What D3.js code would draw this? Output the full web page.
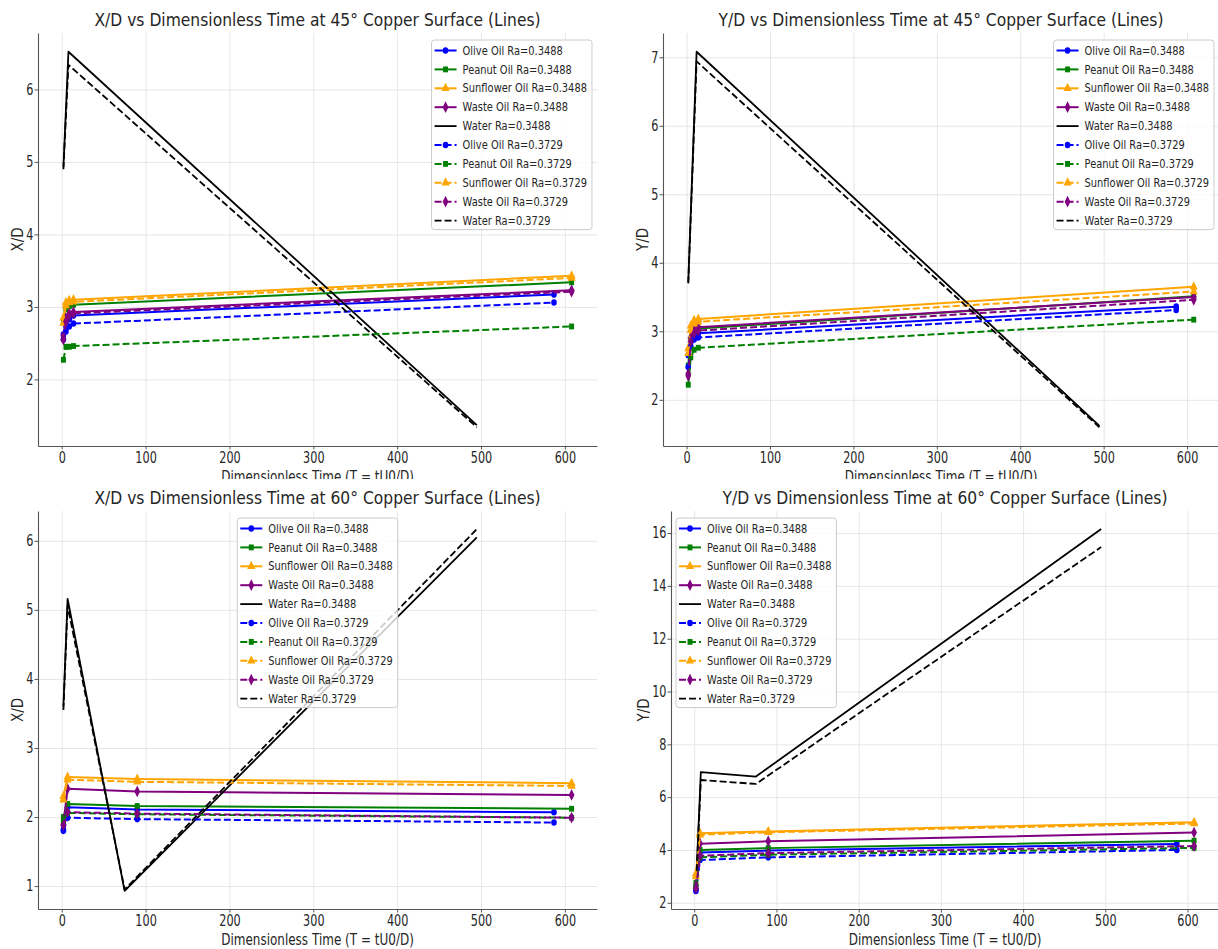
<!DOCTYPE html>
<html>
<head>
<meta charset="utf-8">
<script src="https://cdn.jsdelivr.net/npm/d3@7"></script>
<style>
  body { margin: 0; background: #ffffff; }
  svg { display: block; font-family: "DejaVu Sans", sans-serif; }
</style>
</head>
<body>
<svg id="chart" width="1218" height="949"></svg>
<script>
// ---------------- DATA ----------------
const fluidNames   = ["Olive Oil", "Peanut Oil", "Sunflower Oil", "Waste Oil", "Water"];
const raLabels     = ["0.3488", "0.3729"];
const xTickValues  = [0, 100, 200, 300, 400, 500, 600];

// Dimensionless time samples (T = tU0/D)
const tTopOlive   = [2, 5, 9, 14, 587];
const tTopOil     = [2, 5, 9, 14, 608];
const tTopWaterX  = [2, 8, 495];
const tTopWaterY  = [2, 12, 495];
const tBotOlive   = [2, 7, 90, 587];
const tBotOil     = [2, 7, 90, 608];
const tBotWaterX  = [2, 7, 75, 495];
const tBotWaterY  = [3, 8, 75, 495];

// X/D at 45° (order: Olive, Peanut, Sunflower, Waste, Water)
const xd45Ra3488 = [
  [2.62, 2.74, 2.83, 2.88, 3.17],
  [2.80, 2.97, 3.01, 3.03, 3.34],
  [2.85, 3.06, 3.09, 3.10, 3.43],
  [2.60, 2.84, 2.91, 2.93, 3.23],
  [4.93, 6.52, 1.37]
];
const xd45Ra3729 = [
  [2.55, 2.66, 2.73, 2.77, 3.06],
  [2.27, 2.45, 2.45, 2.46, 2.73],
  [2.78, 3.02, 3.06, 3.07, 3.40],
  [2.55, 2.80, 2.88, 2.91, 3.21],
  [4.90, 6.34, 1.34]
];
// Y/D at 45°
const yd45Ra3488 = [
  [2.65, 2.85, 2.94, 2.97, 3.36],
  [2.50, 2.88, 3.00, 3.04, 3.51],
  [2.75, 3.08, 3.16, 3.18, 3.65],
  [2.38, 2.90, 3.02, 3.06, 3.50],
  [3.72, 7.08, 1.62]
];
const yd45Ra3729 = [
  [2.48, 2.78, 2.88, 2.91, 3.31],
  [2.22, 2.62, 2.73, 2.76, 3.17],
  [2.68, 3.02, 3.11, 3.14, 3.58],
  [2.35, 2.85, 2.97, 3.01, 3.46],
  [3.70, 6.94, 1.60]
];
// X/D at 60°
const xd60Ra3488 = [
  [1.82, 2.14, 2.11, 2.07],
  [2.00, 2.19, 2.16, 2.12],
  [2.30, 2.58, 2.55, 2.49],
  [1.90, 2.41, 2.37, 2.32],
  [3.60, 5.16, 0.93, 6.05]
];
const xd60Ra3729 = [
  [1.80, 1.99, 1.97, 1.92],
  [1.95, 2.06, 2.04, 1.99],
  [2.25, 2.54, 2.51, 2.45],
  [1.88, 2.07, 2.05, 1.99],
  [3.55, 5.06, 0.95, 6.17]
];
// Y/D at 60°
const yd60Ra3488 = [
  [2.50, 3.90, 3.98, 4.23],
  [2.75, 4.00, 4.07, 4.35],
  [3.10, 4.63, 4.70, 5.05],
  [2.65, 4.24, 4.33, 4.66],
  [3.30, 6.95, 6.78, 16.15]
];
const yd60Ra3729 = [
  [2.45, 3.62, 3.72, 4.00],
  [2.60, 3.72, 3.82, 4.08],
  [3.00, 4.58, 4.67, 5.00],
  [2.55, 3.78, 3.88, 4.15],
  [3.20, 6.65, 6.50, 15.47]
];

const yTicks45X = [2, 3, 4, 5, 6];
const yTicks45Y = [2, 3, 4, 5, 6, 7];
const yTicks60X = [1, 2, 3, 4, 5, 6];
const yTicks60Y = [2, 4, 6, 8, 10, 12, 14, 16];

const titles = [
  "X/D vs Dimensionless Time at 45° Copper Surface (Lines)",
  "Y/D vs Dimensionless Time at 45° Copper Surface (Lines)",
  "X/D vs Dimensionless Time at 60° Copper Surface (Lines)",
  "Y/D vs Dimensionless Time at 60° Copper Surface (Lines)"
];
const yLabels = ["X/D", "Y/D", "X/D", "Y/D"];
const xLabel = "Dimensionless Time (T = tU0/D)";

// ---------------- STYLE / LAYOUT ----------------
const fluidColors  = ["blue", "green", "orange", "purple", "black"];
const fluidSymbols = [d3.symbolCircle, d3.symbolSquare, d3.symbolTriangle, d3.symbolDiamond, null];
const symbolSizes  = [34, 34, 40, 40, 0];
const dashes = [null, "7,3"];

const SX_TICK = 0.75, SX_TITLE = 0.84, SX_LABEL = 0.8, SX_LEG = 0.86, SX_MARK = 0.85;
const FS_TICK = 15, FS_TITLE = 18.5, FS_LABEL = 15, FS_LEG = 11.5;
const TEXT_COLOR = "#262626";
const GRID_COLOR = "#e6e6e6";
const SPINE_COLOR = "#555555";

const panels = [
  { l: 38,  r: 597,  t: 33,  b: 446, row: 0, times: [tTopOlive, tTopOil, tTopOil, tTopOil, tTopWaterX], series: [xd45Ra3488, xd45Ra3729], yTicks: yTicks45X, legend: "ur" },
  { l: 663, r: 1219, t: 33,  b: 446, row: 0, times: [tTopOlive, tTopOil, tTopOil, tTopOil, tTopWaterY], series: [yd45Ra3488, yd45Ra3729], yTicks: yTicks45Y, legend: "ur" },
  { l: 38,  r: 597,  t: 511, b: 909, row: 1, times: [tBotOlive, tBotOil, tBotOil, tBotOil, tBotWaterX], series: [xd60Ra3488, xd60Ra3729], yTicks: yTicks60X, legend: "uc" },
  { l: 671, r: 1219, t: 511, b: 909, row: 1, times: [tBotOlive, tBotOil, tBotOil, tBotOil, tBotWaterY], series: [yd60Ra3488, yd60Ra3729], yTicks: yTicks60Y, legend: "ul" }
];

// ---------------- DRAW ----------------
const svg = d3.select("#chart");
svg.append("rect").attr("width", 1218).attr("height", 949).attr("fill", "#fff");
svg.append("defs").append("clipPath").attr("id", "rowTop")
  .append("rect").attr("x", 0).attr("y", 0).attr("width", 1218).attr("height", 479);

function sText(parent, x, y, str, o) {
  const g = parent.append("g").attr("transform", `translate(${x},${y})` + (o.rotate ? ` rotate(${o.rotate})` : ""));
  const t = g.append("text")
    .attr("transform", `scale(${o.sx || 1},1)`)
    .attr("text-anchor", o.anchor || "start")
    .attr("font-size", o.size)
    .attr("fill", o.fill || TEXT_COLOR)
    .text(str);
  if (o.dy) t.attr("dy", o.dy);
  return t;
}

const padExtent = ext => { const s = ext[1] - ext[0]; return [ext[0] - 0.05 * s, ext[1] + 0.05 * s]; };
const intFmt = d3.format("d");

panels.forEach((p, pi) => {
  const g = svg.append("g").attr("clip-path", p.row === 0 ? "url(#rowTop)" : null);

  const allT = p.times.flat();
  const allV = p.series.flat(2);
  const x = d3.scaleLinear().domain(padExtent(d3.extent(allT))).range([p.l, p.r]);
  const y = d3.scaleLinear().domain(padExtent(d3.extent(allV))).range([p.b, p.t]);

  // grid
  g.append("g").attr("transform", `translate(0,${p.b})`)
    .call(d3.axisBottom(x).tickValues(xTickValues).tickSize(-(p.b - p.t)).tickFormat(""))
    .call(a => { a.select(".domain").remove(); a.selectAll("line").attr("stroke", GRID_COLOR).attr("stroke-width", 1); });
  g.append("g").attr("transform", `translate(${p.l},0)`)
    .call(d3.axisLeft(y).tickValues(p.yTicks).tickSize(-(p.r - p.l)).tickFormat(""))
    .call(a => { a.select(".domain").remove(); a.selectAll("line").attr("stroke", GRID_COLOR).attr("stroke-width", 1); });

  // series
  const line = d3.line().x(d => x(d[0])).y(d => y(d[1]));
  p.series.forEach((group, ri) => {
    group.forEach((vals, fi) => {
      const pts = p.times[fi].map((t, i) => [t, vals[i]]);
      g.append("path").datum(pts)
        .attr("d", line)
        .attr("fill", "none")
        .attr("stroke", fluidColors[fi])
        .attr("stroke-width", fi === 4 ? 1.8 : 2)
        .attr("stroke-dasharray", dashes[ri])
        .attr("stroke-linejoin", "round");
      if (fluidSymbols[fi]) {
        const sym = d3.symbol().type(fluidSymbols[fi]).size(symbolSizes[fi]);
        g.append("g").selectAll("path").data(pts).join("path")
          .attr("d", sym)
          .attr("transform", d => `translate(${x(d[0])},${y(d[1])}) scale(${SX_MARK},1)`)
          .attr("fill", fluidColors[fi]);
      }
    });
  });

  // axes (spines left & bottom)
  const xa = g.append("g").attr("transform", `translate(0,${p.b})`)
    .call(d3.axisBottom(x).tickValues(xTickValues).tickFormat(intFmt).tickSize(3.5).tickPadding(2.5).tickSizeOuter(0));
  xa.select(".domain").attr("stroke", SPINE_COLOR).attr("stroke-width", 1.1);
  xa.selectAll(".tick line").attr("stroke", SPINE_COLOR);
  xa.selectAll(".tick text").attr("font-size", FS_TICK).attr("fill", TEXT_COLOR)
    .attr("font-family", "DejaVu Sans").attr("transform", `scale(${SX_TICK},1)`);

  const ya = g.append("g").attr("transform", `translate(${p.l},0)`)
    .call(d3.axisLeft(y).tickValues(p.yTicks).tickFormat(intFmt).tickSize(3.5).tickPadding(1).tickSizeOuter(0));
  ya.select(".domain").attr("stroke", SPINE_COLOR).attr("stroke-width", 1.1);
  ya.selectAll(".tick line").attr("stroke", SPINE_COLOR);
  ya.selectAll(".tick text").attr("font-size", FS_TICK).attr("fill", TEXT_COLOR)
    .attr("font-family", "DejaVu Sans")
    .attr("x", -4.5 / SX_TICK)
    .attr("transform", `scale(${SX_TICK},1)`);

  // tick label width for y-label placement
  let maxW = 0;
  ya.selectAll(".tick text").each(function () { maxW = Math.max(maxW, this.getComputedTextLength() * SX_TICK); });

  // title and axis labels
  const cx = (p.l + p.r) / 2;
  sText(g, cx, p.t - 7, titles[pi], { size: FS_TITLE, sx: SX_TITLE, anchor: "middle" });
  sText(g, cx, p.b + 35.5, xLabel, { size: FS_LABEL, sx: SX_LABEL, anchor: "middle" });
  sText(g, p.l - 4.5 - maxW - 8.3, (p.t + p.b) / 2, yLabels[pi], { size: FS_LABEL, sx: 0.9, anchor: "middle", rotate: -90, dy: "0.35em" });

  // legend
  const pitch = 18.9, padTop = 10.5, padBottom = 9, hx0 = 3, hLen = 22, textX = 31, padRight = 5;
  const lg = g.append("g");
  const frame = lg.append("rect");
  const entries = [];
  raLabels.forEach((ra, ri) => fluidNames.forEach((fn, fi) => entries.push({ ri, fi, label: `${fn} Ra=${ra}` })));
  let maxText = 0;
  entries.forEach((e, k) => {
    const cy = padTop + k * pitch;
    lg.append("line").attr("x1", hx0).attr("x2", hx0 + hLen).attr("y1", cy).attr("y2", cy)
      .attr("stroke", fluidColors[e.fi]).attr("stroke-width", e.fi === 4 ? 1.8 : 2)
      .attr("stroke-dasharray", dashes[e.ri]);
    if (fluidSymbols[e.fi]) {
      lg.append("path").attr("d", d3.symbol().type(fluidSymbols[e.fi]).size(symbolSizes[e.fi]))
        .attr("transform", `translate(${hx0 + hLen / 2},${cy}) scale(${SX_MARK},1)`)
        .attr("fill", fluidColors[e.fi]);
    }
    const t = sText(lg, textX, cy, e.label, { size: FS_LEG, sx: SX_LEG, dy: "0.36em" });
    maxText = Math.max(maxText, t.node().getComputedTextLength() * SX_LEG);
  });
  const boxW = textX + maxText + padRight;
  const boxH = padTop + (entries.length - 1) * pitch + padBottom;
  frame.attr("x", 0).attr("y", 0).attr("width", boxW).attr("height", boxH)
    .attr("rx", 3).attr("fill", "#ffffff").attr("fill-opacity", 0.8)
    .attr("stroke", "#cccccc").attr("stroke-width", 1);
  let bx;
  if (p.legend === "ur") bx = p.r - 5 - boxW;
  else if (p.legend === "ul") bx = p.l + 5;
  else bx = cx - boxW / 2;
  lg.attr("transform", `translate(${bx},${p.t + 7})`);
});
</script>
</body>
</html>
